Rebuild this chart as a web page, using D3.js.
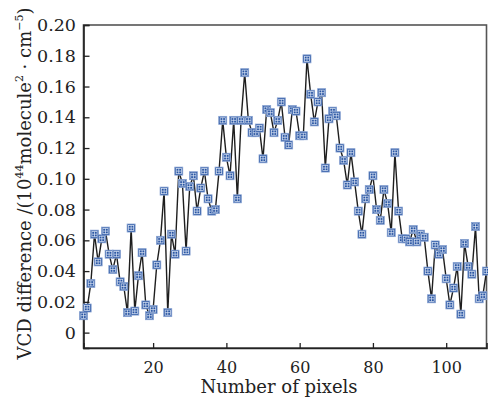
<!DOCTYPE html>
<html><head><meta charset="utf-8">
<script src="https://cdn.jsdelivr.net/npm/d3@7"></script>
<style>html,body{margin:0;padding:0;background:#fff;}svg{display:block;}</style>
</head><body>
<svg id="chart" width="488" height="398"></svg>
<script>
const pixels = d3.range(1, 112);
const vcdDiff = [
  0.011, 0.016, 0.032, 0.064, 0.046, 0.061, 0.066, 0.051, 0.041, 0.051,
  0.033, 0.030, 0.013, 0.068, 0.014, 0.037, 0.052, 0.018, 0.011, 0.015,
  0.044, 0.060, 0.092, 0.013, 0.064, 0.051, 0.105, 0.097, 0.053, 0.095,
  0.102, 0.079, 0.094, 0.105, 0.087, 0.079, 0.080, 0.105, 0.138, 0.114,
  0.102, 0.138, 0.087, 0.138, 0.169, 0.138, 0.130, 0.130, 0.133, 0.113,
  0.145, 0.143, 0.130, 0.138, 0.150, 0.127, 0.122, 0.145, 0.144, 0.128,
  0.128, 0.178, 0.155, 0.137, 0.150, 0.156, 0.107, 0.139, 0.144, 0.141,
  0.120, 0.112, 0.096, 0.117, 0.098, 0.079, 0.064, 0.087, 0.093, 0.102,
  0.080, 0.073, 0.093, 0.084, 0.065, 0.117, 0.079, 0.061, 0.061, 0.059,
  0.067, 0.059, 0.064, 0.062, 0.040, 0.022, 0.057, 0.051, 0.054, 0.035,
  0.018, 0.029, 0.043, 0.012, 0.058, 0.043, 0.038, 0.069, 0.022, 0.024,
  0.040
];
const xTicks = [20, 40, 60, 80, 100];
const yTicks = [0, 0.02, 0.04, 0.06, 0.08, 0.10, 0.12, 0.14, 0.16, 0.18, 0.20];
const xTitle = "Number of pixels";

const data = pixels.map((p, i) => ({x: p, y: vcdDiff[i]}));

const L = 83.5, R = 486.5, T = 25, B = 348;
const svg = d3.select("#chart");
const x = d3.scaleLinear().domain([1, 111]).range([L, R]);
const y = d3.scaleLinear().domain([-0.01, 0.20]).range([B, T]);
const FONT = "DejaVu Serif, serif";

// frame
svg.append("rect").attr("x", L).attr("y", T).attr("width", R - L).attr("height", B - T)
  .attr("fill", "none").attr("stroke", "#555").attr("stroke-width", 1.6);

// x axis
const gx = svg.append("g").attr("transform", `translate(0,${B})`)
  .call(d3.axisBottom(x).tickValues(xTicks).tickSize(-5).tickPadding(13.5).tickFormat(d3.format("d")));
gx.select(".domain").attr("stroke", "#222").attr("stroke-width", 1.6);
gx.selectAll(".tick line").attr("stroke", "#222").attr("stroke-width", 1.3);
gx.selectAll("text").attr("font-family", FONT).attr("font-size", 16).attr("fill", "#222");

// y axis
const gy = svg.append("g").attr("transform", `translate(${L},0)`)
  .call(d3.axisLeft(y).tickValues(yTicks).tickSize(-6).tickPadding(7.5)
    .tickFormat(d => d === 0 ? "0" : d3.format(".2f")(d)));
gy.select(".domain").attr("stroke", "#222").attr("stroke-width", 1.6);
gy.selectAll(".tick line").attr("stroke", "#222").attr("stroke-width", 1.3);
gy.selectAll("text").attr("font-family", FONT).attr("font-size", 17.5).attr("fill", "#222");

// line
svg.append("path").datum(data)
  .attr("fill", "none").attr("stroke", "#1e1e1e").attr("stroke-width", 1.4)
  .attr("d", d3.line().x(d => x(d.x)).y(d => y(d.y)));

// markers
const m = svg.append("g").selectAll("g").data(data).join("g")
  .attr("transform", d => `translate(${x(d.x)},${y(d.y)})`);
m.append("rect").attr("x", -4).attr("y", -4).attr("width", 8).attr("height", 8)
  .attr("fill", "#2a56a3").attr("stroke", "#89a3d2").attr("stroke-width", 0.8);
m.append("rect").attr("x", -2.6).attr("y", -2.6).attr("width", 5.2).attr("height", 5.2)
  .attr("fill", "none").attr("stroke", "#dfe8f6").attr("stroke-width", 0.7);
m.append("path").attr("d", "M-2.6,0H2.6M0,-2.6V2.6")
  .attr("stroke", "#dfe8f6").attr("stroke-width", 0.7);

// x title
svg.append("text").attr("x", (L + R) / 2 - 6).attr("y", 393)
  .attr("text-anchor", "middle").attr("font-family", FONT).attr("font-size", 18).attr("fill", "#222")
  .text(xTitle);

// y title
const yt = svg.append("text").attr("transform", `translate(31,${(T + B) / 2 - 3}) rotate(-90)`)
  .attr("text-anchor", "middle").attr("font-family", FONT).attr("font-size", 18).attr("fill", "#222");
const parts = [
  ["VCD difference /(10", false], ["44", true], ["molecule", false], ["2", true],
  [" \u00B7 cm", false], ["\u22125", true], [")", false]
];
parts.forEach(([t, sup], i) => {
  const ts = yt.append("tspan").text(t);
  if (sup) ts.attr("font-size", 11).attr("dy", -8);
  else if (i > 0 && parts[i - 1][1]) ts.attr("dy", 8);
});
</script>
</body></html>
